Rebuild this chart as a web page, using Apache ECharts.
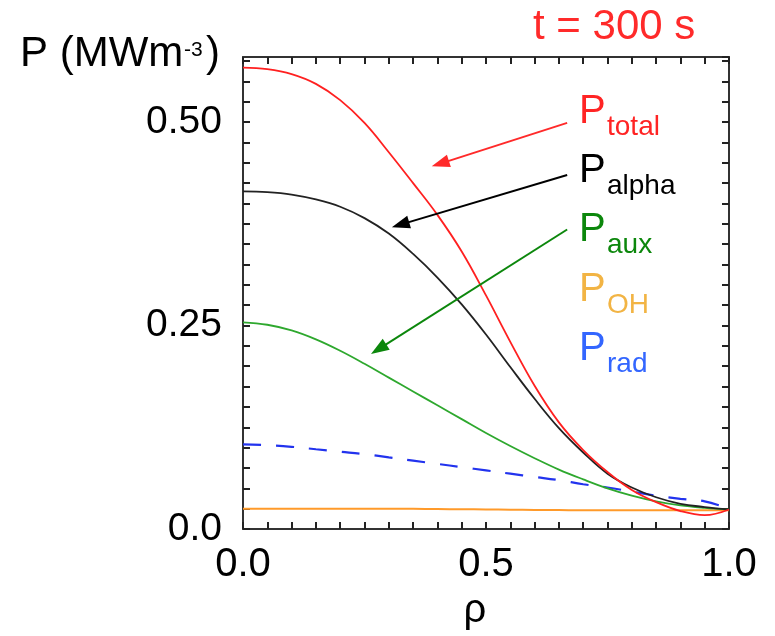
<!DOCTYPE html>
<html>
<head>
<meta charset="utf-8">
<script src="https://cdn.jsdelivr.net/npm/echarts@6/dist/echarts.min.js"></script>
<style>
	html, body {margin: 0; padding: 0; background: #fff;}
	#chart {width: 775px; height: 636px;}
</style>
</head>
<body>
<div id="chart"></div>
<script>
const FONT = '"Liberation Sans", Arial, sans-serif';

// radial coordinate and power density profiles (MW m^-3)
const rho = [0, 0.05, 0.1, 0.15, 0.2, 0.25, 0.3, 0.35, 0.4, 0.45, 0.5,
	0.55, 0.6, 0.65, 0.7, 0.75, 0.8, 0.85, 0.9, 0.95, 1.0];
const pTotal = [0.567, 0.565, 0.559, 0.547, 0.527, 0.499, 0.463, 0.425, 0.386, 0.341, 0.287,
	0.230, 0.176, 0.131, 0.097, 0.070, 0.048, 0.033, 0.022, 0.017, 0.024];
const pAlpha = [0.415, 0.414, 0.411, 0.405, 0.396, 0.382, 0.363, 0.338, 0.309, 0.276, 0.239,
	0.199, 0.160, 0.124, 0.094, 0.068, 0.051, 0.039, 0.031, 0.027, 0.024];
const pAux = [0.254, 0.251, 0.244, 0.233, 0.219, 0.203, 0.186, 0.169, 0.152, 0.135, 0.118,
	0.102, 0.087, 0.073, 0.061, 0.050, 0.041, 0.034, 0.029, 0.026, 0.024];
const pOH = [0.025, 0.025, 0.025, 0.025, 0.025, 0.025, 0.025, 0.0248, 0.0245, 0.0243, 0.024,
	0.0238, 0.0235, 0.0233, 0.023, 0.023, 0.023, 0.023, 0.023, 0.023, 0.023];
const pRad = [0.104, 0.103, 0.101, 0.098, 0.095, 0.092, 0.088, 0.084, 0.080, 0.076, 0.072,
	0.068, 0.064, 0.060, 0.055, 0.051, 0.046, 0.041, 0.037, 0.034, 0.025];

// legend entries: main letter + subscript
const legendSubs = ['total', 'alpha', 'aux', 'OH', 'rad'];
const legendColors = ['#ff2424', '#000000', '#0c870c', '#f2b444', '#3366ff'];

// annotation arrows: [from, to] in data coords
const arrowTotal = [[0.667, 0.499], [0.406, 0.449]];
const arrowAlpha = [[0.667, 0.435], [0.324, 0.374]];
const arrowAux = [[0.667, 0.368], [0.279, 0.221]];

const toPairs = ys => rho.map((r, i) => [r, ys[i]]);

function arrow(points, color) {
	return [
		{coord: points[0], lineStyle: {color, width: 2, type: 'solid'}},
		{coord: points[1]},
	];
}

function arrowMark(points, color) {
	return {
		silent: true,
		symbol: ['none', 'triangle'],
		symbolSize: [13, 18],
		label: {show: false},
		data: [arrow(points, color)],
	};
}

function lineSeries(name, data, color, extra) {
	return Object.assign({
		name,
		type: 'line',
		data: toPairs(data),
		smooth: 0.4,
		symbol: 'none',
		lineStyle: {color, width: 1.8},
		silent: true,
		z: 3,
	}, extra || {});
}

const chart = echarts.init(document.getElementById('chart'));

const tickStyle = {show: true, inside: true, length: 7, lineStyle: {color: '#222', width: 2}};
const lineStyle = {show: true, onZero: false, lineStyle: {color: '#333', width: 2}};

const rows = [112, 171, 230, 290, 349];
const graphics = [];
legendSubs.forEach((sub, i) => {
	graphics.push({
		type: 'text', x: 579, y: rows[i],
		style: {text: 'P', font: `40px ${FONT}`, fill: legendColors[i], verticalAlign: 'middle'},
	});
	graphics.push({
		type: 'text', x: 607, y: rows[i] + 15,
		style: {text: sub, font: `28px ${FONT}`, fill: legendColors[i], verticalAlign: 'middle'},
	});
});
graphics.push(
	{type: 'text', x: 20, y: 54, style: {text: 'P (MWm', font: `42px ${FONT}`, fill: '#000', verticalAlign: 'middle'}},
	{type: 'text', x: 184, y: 50, style: {text: '-3', font: `21px ${FONT}`, fill: '#000', verticalAlign: 'middle'}},
	{type: 'text', x: 206, y: 54, style: {text: ')', font: `42px ${FONT}`, fill: '#000', verticalAlign: 'middle'}},
	{type: 'text', x: 533, y: 27, style: {text: 't = 300 s', font: `42px ${FONT}`, fill: '#ff2a2a', verticalAlign: 'middle'}},
);

const option = {
	animation: false,
	backgroundColor: '#fff',
	grid: {left: 243, top: 57, right: 46, bottom: 104},
	xAxis: [
		{
			type: 'value', min: 0, max: 1, interval: 0.05,
			position: 'bottom',
			axisLine: lineStyle,
			axisTick: tickStyle,
			splitLine: {show: false},
			axisLabel: {
				margin: 16,
				fontSize: 40,
				fontFamily: FONT,
				color: '#000',
				formatter: v => {
					if (Math.abs(v) < 1e-6) return '0.0';
					if (Math.abs(v - 0.5) < 1e-6) return '0.5';
					if (Math.abs(v - 1) < 1e-6) return '1.0';
					return '';
				},
			},
			name: 'ρ',
			nameLocation: 'middle',
			nameGap: 62,
			nameTextStyle: {fontSize: 40, fontFamily: FONT, color: '#000', padding: [0, 22, 0, 0]},
		},
		{
			type: 'value', min: 0, max: 1, interval: 0.05,
			position: 'top',
			axisLine: lineStyle,
			axisTick: tickStyle,
			splitLine: {show: false},
			axisLabel: {show: false},
		},
	],
	yAxis: [
		{
			type: 'value', min: 0, max: 0.58, interval: 0.025,
			position: 'left',
			axisLine: lineStyle,
			axisTick: tickStyle,
			splitLine: {show: false},
			axisLabel: {
				margin: 21,
				fontSize: 39,
				fontFamily: FONT,
				color: '#000',
				showMaxLabel: false,
				formatter: v => {
					if (Math.abs(v) < 1e-6) return '0.0';
					if (Math.abs(v - 0.25) < 1e-6) return '0.25';
					if (Math.abs(v - 0.5) < 1e-6) return '0.50';
					return '';
				},
			},
		},
		{
			type: 'value', min: 0, max: 0.58, interval: 0.025,
			position: 'right',
			axisLine: lineStyle,
			axisTick: tickStyle,
			splitLine: {show: false},
			axisLabel: {show: false},
		},
	],
	series: [
		lineSeries('P_OH', pOH, '#ff9a2a', {lineStyle: {color: '#ff9a2a', width: 2}}),
		lineSeries('P_rad', pRad, '#2233ee', {lineStyle: {color: '#2233ee', width: 2.2, type: [18, 15]}}),
		lineSeries('P_aux', pAux, '#2ea82e', {markLine: arrowMark(arrowAux, '#0c870c')}),
		lineSeries('P_alpha', pAlpha, '#222222', {markLine: arrowMark(arrowAlpha, '#000000')}),
		lineSeries('P_total', pTotal, '#ff2020', {markLine: arrowMark(arrowTotal, '#ff2a2a')}),
	],
	graphic: graphics,
};

chart.setOption(option);
</script>
</body>
</html>
